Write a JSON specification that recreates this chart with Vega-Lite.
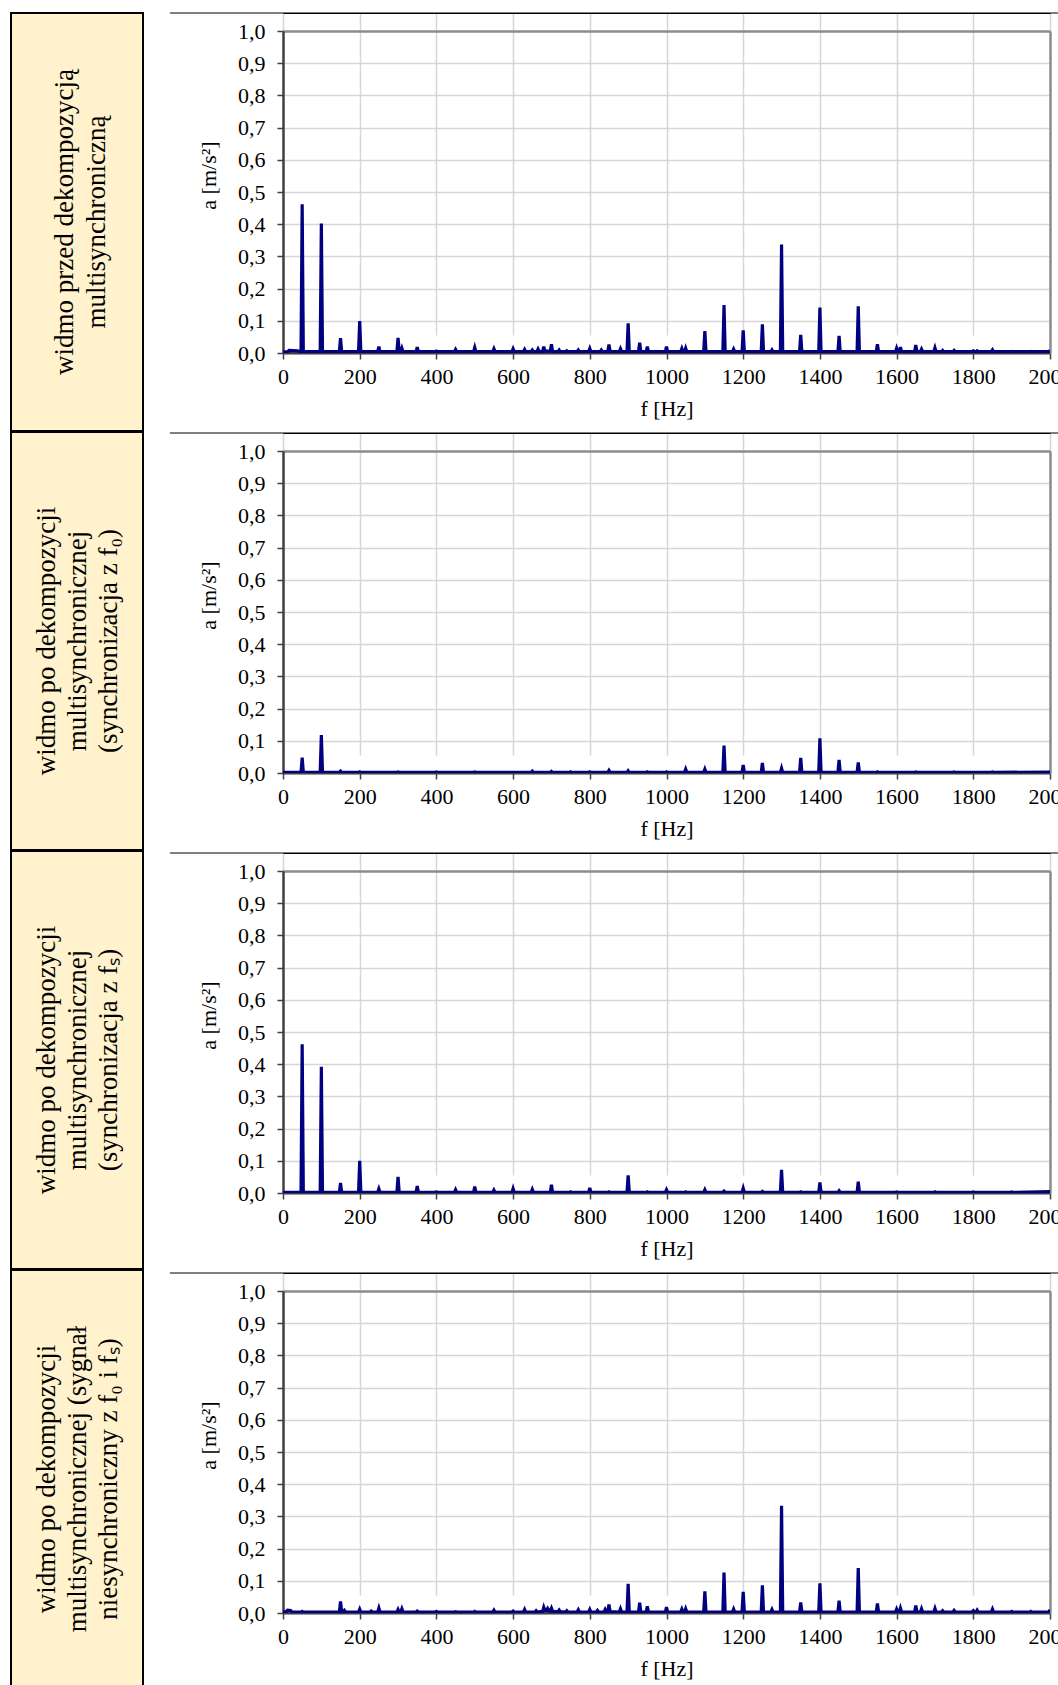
{
  "$schema": "https://vega.github.io/schema/vega-lite/v6.json",
  "padding": {"left": 10, "top": 12, "right": 0, "bottom": 0},
  "background": "white",
  "config": {
    "font": "Liberation Serif",
    "view": {"stroke": null},
    "axisX": {"grid": true, "gridColor": "#d6d6d6", "gridWidth": 1.5, "domainColor": "#404040", "domainWidth": 2, "tickColor": "#404040", "tickSize": 6, "tickWidth": 1.5, "labelFont": "Liberation Serif", "labelFontSize": 22, "labelColor": "black", "labelPadding": 7, "labelFlush": false, "labelOverlap": false, "titleFont": "Liberation Serif", "titleFontSize": 22, "titleFontWeight": "normal", "titleColor": "black", "titlePadding": 11},
    "axisY": {"grid": true, "domainColor": "#404040", "domainWidth": 2.5, "tickColor": "#404040", "tickSize": 6, "tickWidth": 1.5, "labelFont": "Liberation Serif", "labelFontSize": 22, "labelColor": "black", "labelPadding": 12, "labelFlush": false, "labelOverlap": false, "titleFont": "Liberation Serif", "titleFontSize": 22, "titleFontWeight": "normal", "titleColor": "black", "titlePadding": 17, "titleY": 162}
  },
  "datasets": {
    "labels": [
      {"p": 1, "lines": ["widmo przed dekompozycją", "multisynchroniczną"]},
      {"p": 2, "lines": ["widmo po dekompozycji", "multisynchronicznej", "(synchronizacja z f₀)"]},
      {"p": 3, "lines": ["widmo po dekompozycji", "multisynchronicznej", "(synchronizacja z fₛ)"]},
      {"p": 4, "lines": ["widmo po dekompozycji", "multisynchronicznej (sygnał", "niesynchroniczny z f₀ i fₛ)"]}
    ],
    "base": [
      {"p": 1, "f": 0, "f2": 2000, "a": 0},
      {"p": 2, "f": 0, "f2": 2000, "a": 0},
      {"p": 3, "f": 0, "f2": 2000, "a": 0},
      {"p": 4, "f": 0, "f2": 2000, "a": 0}
    ],
    "spec": [
      {"p":1,"f":0,"a":0.003},{"p":1,"f":12,"a":0.004},{"p":1,"f":16,"a":0.008},{"p":1,"f":38,"a":0.007},{"p":1,"f":44,"a":0.004},
      {"p":1,"f":47,"a":0.004},{"p":1,"f":50,"a":0.462},{"p":1,"f":53,"a":0.004},
      {"p":1,"f":97,"a":0.004},{"p":1,"f":100,"a":0.402},{"p":1,"f":103,"a":0.004},
      {"p":1,"f":147,"a":0.004},{"p":1,"f":150,"a":0.046},{"p":1,"f":153,"a":0.004},
      {"p":1,"f":197,"a":0.004},{"p":1,"f":200,"a":0.099},{"p":1,"f":203,"a":0.004},
      {"p":1,"f":247,"a":0.004},{"p":1,"f":250,"a":0.02},{"p":1,"f":253,"a":0.004},
      {"p":1,"f":297,"a":0.004},{"p":1,"f":300,"a":0.047},{"p":1,"f":303,"a":0.004},
      {"p":1,"f":307,"a":0.004},{"p":1,"f":310,"a":0.015},{"p":1,"f":313,"a":0.004},
      {"p":1,"f":347,"a":0.004},{"p":1,"f":350,"a":0.018},{"p":1,"f":353,"a":0.004},
      {"p":1,"f":397,"a":0.004},{"p":1,"f":400,"a":0.006},{"p":1,"f":403,"a":0.004},
      {"p":1,"f":447,"a":0.004},{"p":1,"f":450,"a":0.011},{"p":1,"f":453,"a":0.004},
      {"p":1,"f":497,"a":0.004},{"p":1,"f":500,"a":0.017},{"p":1,"f":503,"a":0.004},
      {"p":1,"f":547,"a":0.004},{"p":1,"f":550,"a":0.013},{"p":1,"f":553,"a":0.004},
      {"p":1,"f":597,"a":0.004},{"p":1,"f":600,"a":0.013},{"p":1,"f":603,"a":0.004},
      {"p":1,"f":627,"a":0.004},{"p":1,"f":630,"a":0.011},{"p":1,"f":633,"a":0.004},
      {"p":1,"f":647,"a":0.004},{"p":1,"f":650,"a":0.009},{"p":1,"f":653,"a":0.004},
      {"p":1,"f":662,"a":0.004},{"p":1,"f":665,"a":0.012},{"p":1,"f":668,"a":0.004},
      {"p":1,"f":677,"a":0.005},{"p":1,"f":680,"a":0.02},{"p":1,"f":683,"a":0.006},
      {"p":1,"f":697,"a":0.006},{"p":1,"f":700,"a":0.027},{"p":1,"f":703,"a":0.005},
      {"p":1,"f":717,"a":0.004},{"p":1,"f":720,"a":0.009},{"p":1,"f":723,"a":0.004},
      {"p":1,"f":737,"a":0.004},{"p":1,"f":740,"a":0.007},{"p":1,"f":743,"a":0.004},
      {"p":1,"f":767,"a":0.004},{"p":1,"f":770,"a":0.009},{"p":1,"f":773,"a":0.004},
      {"p":1,"f":797,"a":0.004},{"p":1,"f":800,"a":0.014},{"p":1,"f":803,"a":0.004},
      {"p":1,"f":827,"a":0.004},{"p":1,"f":830,"a":0.009},{"p":1,"f":833,"a":0.004},
      {"p":1,"f":847,"a":0.005},{"p":1,"f":850,"a":0.026},{"p":1,"f":853,"a":0.005},
      {"p":1,"f":877,"a":0.004},{"p":1,"f":880,"a":0.013},{"p":1,"f":883,"a":0.004},
      {"p":1,"f":897,"a":0.004},{"p":1,"f":900,"a":0.092},{"p":1,"f":903,"a":0.004},
      {"p":1,"f":927,"a":0.004},{"p":1,"f":930,"a":0.032},{"p":1,"f":933,"a":0.004},
      {"p":1,"f":947,"a":0.004},{"p":1,"f":950,"a":0.02},{"p":1,"f":953,"a":0.004},
      {"p":1,"f":997,"a":0.004},{"p":1,"f":1000,"a":0.02},{"p":1,"f":1003,"a":0.004},
      {"p":1,"f":1037,"a":0.004},{"p":1,"f":1040,"a":0.014},{"p":1,"f":1043,"a":0.004},
      {"p":1,"f":1047,"a":0.004},{"p":1,"f":1050,"a":0.015},{"p":1,"f":1053,"a":0.004},
      {"p":1,"f":1097,"a":0.004},{"p":1,"f":1100,"a":0.068},{"p":1,"f":1103,"a":0.004},
      {"p":1,"f":1147,"a":0.004},{"p":1,"f":1150,"a":0.149},{"p":1,"f":1153,"a":0.004},
      {"p":1,"f":1172,"a":0.004},{"p":1,"f":1175,"a":0.012},{"p":1,"f":1178,"a":0.004},
      {"p":1,"f":1197,"a":0.004},{"p":1,"f":1200,"a":0.07},{"p":1,"f":1203,"a":0.004},
      {"p":1,"f":1247,"a":0.004},{"p":1,"f":1250,"a":0.089},{"p":1,"f":1253,"a":0.004},
      {"p":1,"f":1272,"a":0.004},{"p":1,"f":1275,"a":0.01},{"p":1,"f":1278,"a":0.004},
      {"p":1,"f":1297,"a":0.004},{"p":1,"f":1300,"a":0.337},{"p":1,"f":1303,"a":0.004},
      {"p":1,"f":1347,"a":0.004},{"p":1,"f":1350,"a":0.056},{"p":1,"f":1353,"a":0.004},
      {"p":1,"f":1397,"a":0.004},{"p":1,"f":1400,"a":0.141},{"p":1,"f":1403,"a":0.004},
      {"p":1,"f":1447,"a":0.004},{"p":1,"f":1450,"a":0.053},{"p":1,"f":1453,"a":0.004},
      {"p":1,"f":1497,"a":0.004},{"p":1,"f":1500,"a":0.145},{"p":1,"f":1503,"a":0.004},
      {"p":1,"f":1547,"a":0.004},{"p":1,"f":1550,"a":0.027},{"p":1,"f":1553,"a":0.004},
      {"p":1,"f":1597,"a":0.004},{"p":1,"f":1600,"a":0.015},{"p":1,"f":1603,"a":0.004},
      {"p":1,"f":1607,"a":0.004},{"p":1,"f":1610,"a":0.018},{"p":1,"f":1613,"a":0.004},
      {"p":1,"f":1647,"a":0.004},{"p":1,"f":1650,"a":0.025},{"p":1,"f":1653,"a":0.004},
      {"p":1,"f":1662,"a":0.004},{"p":1,"f":1665,"a":0.012},{"p":1,"f":1668,"a":0.004},
      {"p":1,"f":1697,"a":0.004},{"p":1,"f":1700,"a":0.016},{"p":1,"f":1703,"a":0.004},
      {"p":1,"f":1717,"a":0.004},{"p":1,"f":1720,"a":0.008},{"p":1,"f":1723,"a":0.004},
      {"p":1,"f":1747,"a":0.004},{"p":1,"f":1750,"a":0.008},{"p":1,"f":1753,"a":0.004},
      {"p":1,"f":1797,"a":0.004},{"p":1,"f":1800,"a":0.007},{"p":1,"f":1803,"a":0.004},
      {"p":1,"f":1807,"a":0.004},{"p":1,"f":1810,"a":0.007},{"p":1,"f":1813,"a":0.004},
      {"p":1,"f":1847,"a":0.004},{"p":1,"f":1850,"a":0.01},{"p":1,"f":1853,"a":0.004},
      {"p":1,"f":1897,"a":0.004},{"p":1,"f":1900,"a":0.005},{"p":1,"f":1903,"a":0.004},
      {"p":1,"f":1947,"a":0.004},{"p":1,"f":1950,"a":0.005},{"p":1,"f":1953,"a":0.004},
      {"p":1,"f":1997,"a":0.004},{"p":1,"f":2000,"a":0.008},

      {"p":2,"f":0,"a":0.002},
      {"p":2,"f":47,"a":0.002},{"p":2,"f":50,"a":0.048},{"p":2,"f":53,"a":0.002},
      {"p":2,"f":97,"a":0.002},{"p":2,"f":100,"a":0.118},{"p":2,"f":103,"a":0.002},
      {"p":2,"f":147,"a":0.002},{"p":2,"f":150,"a":0.006},{"p":2,"f":153,"a":0.002},
      {"p":2,"f":197,"a":0.002},{"p":2,"f":200,"a":0.004},{"p":2,"f":203,"a":0.002},
      {"p":2,"f":297,"a":0.002},{"p":2,"f":300,"a":0.003},{"p":2,"f":303,"a":0.002},
      {"p":2,"f":397,"a":0.002},{"p":2,"f":400,"a":0.003},{"p":2,"f":403,"a":0.002},
      {"p":2,"f":497,"a":0.002},{"p":2,"f":500,"a":0.003},{"p":2,"f":503,"a":0.002},
      {"p":2,"f":647,"a":0.002},{"p":2,"f":650,"a":0.006},{"p":2,"f":653,"a":0.002},
      {"p":2,"f":697,"a":0.002},{"p":2,"f":700,"a":0.005},{"p":2,"f":703,"a":0.002},
      {"p":2,"f":747,"a":0.002},{"p":2,"f":750,"a":0.004},{"p":2,"f":753,"a":0.002},
      {"p":2,"f":797,"a":0.002},{"p":2,"f":800,"a":0.004},{"p":2,"f":803,"a":0.002},
      {"p":2,"f":847,"a":0.002},{"p":2,"f":850,"a":0.008},{"p":2,"f":853,"a":0.002},
      {"p":2,"f":897,"a":0.002},{"p":2,"f":900,"a":0.007},{"p":2,"f":903,"a":0.002},
      {"p":2,"f":947,"a":0.002},{"p":2,"f":950,"a":0.004},{"p":2,"f":953,"a":0.002},
      {"p":2,"f":997,"a":0.002},{"p":2,"f":1000,"a":0.004},{"p":2,"f":1003,"a":0.002},
      {"p":2,"f":1047,"a":0.002},{"p":2,"f":1050,"a":0.012},{"p":2,"f":1053,"a":0.002},
      {"p":2,"f":1097,"a":0.002},{"p":2,"f":1100,"a":0.012},{"p":2,"f":1103,"a":0.002},
      {"p":2,"f":1147,"a":0.002},{"p":2,"f":1150,"a":0.085},{"p":2,"f":1153,"a":0.002},
      {"p":2,"f":1197,"a":0.002},{"p":2,"f":1200,"a":0.025},{"p":2,"f":1203,"a":0.002},
      {"p":2,"f":1247,"a":0.002},{"p":2,"f":1250,"a":0.031},{"p":2,"f":1253,"a":0.002},
      {"p":2,"f":1297,"a":0.002},{"p":2,"f":1300,"a":0.015},{"p":2,"f":1303,"a":0.002},
      {"p":2,"f":1347,"a":0.002},{"p":2,"f":1350,"a":0.047},{"p":2,"f":1353,"a":0.002},
      {"p":2,"f":1397,"a":0.002},{"p":2,"f":1400,"a":0.108},{"p":2,"f":1403,"a":0.002},
      {"p":2,"f":1447,"a":0.002},{"p":2,"f":1450,"a":0.041},{"p":2,"f":1453,"a":0.002},
      {"p":2,"f":1497,"a":0.002},{"p":2,"f":1500,"a":0.033},{"p":2,"f":1503,"a":0.002},
      {"p":2,"f":1547,"a":0.002},{"p":2,"f":1550,"a":0.004},{"p":2,"f":1553,"a":0.002},
      {"p":2,"f":1647,"a":0.002},{"p":2,"f":1650,"a":0.003},{"p":2,"f":1653,"a":0.002},
      {"p":2,"f":1747,"a":0.002},{"p":2,"f":1750,"a":0.003},{"p":2,"f":1753,"a":0.002},
      {"p":2,"f":1847,"a":0.002},{"p":2,"f":1850,"a":0.003},{"p":2,"f":1853,"a":0.002},
      {"p":2,"f":2000,"a":0.003},

      {"p":3,"f":0,"a":0.002},
      {"p":3,"f":47,"a":0.002},{"p":3,"f":50,"a":0.462},{"p":3,"f":53,"a":0.002},
      {"p":3,"f":97,"a":0.002},{"p":3,"f":100,"a":0.392},{"p":3,"f":103,"a":0.002},
      {"p":3,"f":147,"a":0.002},{"p":3,"f":150,"a":0.031},{"p":3,"f":153,"a":0.002},
      {"p":3,"f":197,"a":0.002},{"p":3,"f":200,"a":0.1},{"p":3,"f":203,"a":0.002},
      {"p":3,"f":247,"a":0.002},{"p":3,"f":250,"a":0.013},{"p":3,"f":253,"a":0.002},
      {"p":3,"f":297,"a":0.002},{"p":3,"f":300,"a":0.05},{"p":3,"f":303,"a":0.002},
      {"p":3,"f":347,"a":0.002},{"p":3,"f":350,"a":0.022},{"p":3,"f":353,"a":0.002},
      {"p":3,"f":397,"a":0.002},{"p":3,"f":400,"a":0.004},{"p":3,"f":403,"a":0.002},
      {"p":3,"f":447,"a":0.002},{"p":3,"f":450,"a":0.01},{"p":3,"f":453,"a":0.002},
      {"p":3,"f":497,"a":0.002},{"p":3,"f":500,"a":0.02},{"p":3,"f":503,"a":0.002},
      {"p":3,"f":547,"a":0.002},{"p":3,"f":550,"a":0.009},{"p":3,"f":553,"a":0.002},
      {"p":3,"f":597,"a":0.002},{"p":3,"f":600,"a":0.014},{"p":3,"f":603,"a":0.002},
      {"p":3,"f":647,"a":0.002},{"p":3,"f":650,"a":0.011},{"p":3,"f":653,"a":0.002},
      {"p":3,"f":697,"a":0.002},{"p":3,"f":700,"a":0.026},{"p":3,"f":703,"a":0.002},
      {"p":3,"f":747,"a":0.002},{"p":3,"f":750,"a":0.004},{"p":3,"f":753,"a":0.002},
      {"p":3,"f":797,"a":0.002},{"p":3,"f":800,"a":0.016},{"p":3,"f":803,"a":0.002},
      {"p":3,"f":847,"a":0.002},{"p":3,"f":850,"a":0.004},{"p":3,"f":853,"a":0.002},
      {"p":3,"f":897,"a":0.002},{"p":3,"f":900,"a":0.055},{"p":3,"f":903,"a":0.002},
      {"p":3,"f":947,"a":0.002},{"p":3,"f":950,"a":0.004},{"p":3,"f":953,"a":0.002},
      {"p":3,"f":997,"a":0.002},{"p":3,"f":1000,"a":0.01},{"p":3,"f":1003,"a":0.002},
      {"p":3,"f":1047,"a":0.002},{"p":3,"f":1050,"a":0.004},{"p":3,"f":1053,"a":0.002},
      {"p":3,"f":1097,"a":0.002},{"p":3,"f":1100,"a":0.01},{"p":3,"f":1103,"a":0.002},
      {"p":3,"f":1147,"a":0.002},{"p":3,"f":1150,"a":0.006},{"p":3,"f":1153,"a":0.002},
      {"p":3,"f":1197,"a":0.002},{"p":3,"f":1200,"a":0.015},{"p":3,"f":1203,"a":0.002},
      {"p":3,"f":1247,"a":0.002},{"p":3,"f":1250,"a":0.005},{"p":3,"f":1253,"a":0.002},
      {"p":3,"f":1297,"a":0.002},{"p":3,"f":1300,"a":0.072},{"p":3,"f":1303,"a":0.002},
      {"p":3,"f":1347,"a":0.002},{"p":3,"f":1350,"a":0.004},{"p":3,"f":1353,"a":0.002},
      {"p":3,"f":1397,"a":0.002},{"p":3,"f":1400,"a":0.033},{"p":3,"f":1403,"a":0.002},
      {"p":3,"f":1447,"a":0.002},{"p":3,"f":1450,"a":0.007},{"p":3,"f":1453,"a":0.002},
      {"p":3,"f":1497,"a":0.002},{"p":3,"f":1500,"a":0.035},{"p":3,"f":1503,"a":0.002},
      {"p":3,"f":1597,"a":0.002},{"p":3,"f":1600,"a":0.003},{"p":3,"f":1603,"a":0.002},
      {"p":3,"f":1697,"a":0.002},{"p":3,"f":1700,"a":0.004},{"p":3,"f":1703,"a":0.002},
      {"p":3,"f":1797,"a":0.002},{"p":3,"f":1800,"a":0.003},{"p":3,"f":1803,"a":0.002},
      {"p":3,"f":1897,"a":0.002},{"p":3,"f":1900,"a":0.003},{"p":3,"f":1903,"a":0.002},
      {"p":3,"f":2000,"a":0.004},

      {"p":4,"f":0,"a":0.003},{"p":4,"f":8,"a":0.004},{"p":4,"f":12,"a":0.009},{"p":4,"f":20,"a":0.008},{"p":4,"f":24,"a":0.003},
      {"p":4,"f":47,"a":0.003},{"p":4,"f":50,"a":0.005},{"p":4,"f":53,"a":0.003},
      {"p":4,"f":97,"a":0.003},{"p":4,"f":100,"a":0.003},{"p":4,"f":103,"a":0.003},
      {"p":4,"f":147,"a":0.003},{"p":4,"f":150,"a":0.036},{"p":4,"f":153,"a":0.003},
      {"p":4,"f":157,"a":0.003},{"p":4,"f":160,"a":0.008},{"p":4,"f":163,"a":0.003},
      {"p":4,"f":197,"a":0.003},{"p":4,"f":200,"a":0.012},{"p":4,"f":203,"a":0.003},
      {"p":4,"f":227,"a":0.003},{"p":4,"f":230,"a":0.006},{"p":4,"f":233,"a":0.003},
      {"p":4,"f":247,"a":0.003},{"p":4,"f":250,"a":0.015},{"p":4,"f":253,"a":0.003},
      {"p":4,"f":297,"a":0.003},{"p":4,"f":300,"a":0.011},{"p":4,"f":303,"a":0.003},
      {"p":4,"f":307,"a":0.003},{"p":4,"f":310,"a":0.013},{"p":4,"f":313,"a":0.003},
      {"p":4,"f":347,"a":0.003},{"p":4,"f":350,"a":0.006},{"p":4,"f":353,"a":0.003},
      {"p":4,"f":397,"a":0.003},{"p":4,"f":400,"a":0.005},{"p":4,"f":403,"a":0.003},
      {"p":4,"f":447,"a":0.003},{"p":4,"f":450,"a":0.004},{"p":4,"f":453,"a":0.003},
      {"p":4,"f":497,"a":0.003},{"p":4,"f":500,"a":0.005},{"p":4,"f":503,"a":0.003},
      {"p":4,"f":547,"a":0.003},{"p":4,"f":550,"a":0.009},{"p":4,"f":553,"a":0.003},
      {"p":4,"f":597,"a":0.003},{"p":4,"f":600,"a":0.006},{"p":4,"f":603,"a":0.003},
      {"p":4,"f":627,"a":0.003},{"p":4,"f":630,"a":0.011},{"p":4,"f":633,"a":0.003},
      {"p":4,"f":657,"a":0.003},{"p":4,"f":660,"a":0.007},{"p":4,"f":663,"a":0.003},
      {"p":4,"f":677,"a":0.005},{"p":4,"f":680,"a":0.018},{"p":4,"f":683,"a":0.008},
      {"p":4,"f":687,"a":0.008},{"p":4,"f":690,"a":0.014},{"p":4,"f":693,"a":0.007},
      {"p":4,"f":697,"a":0.006},{"p":4,"f":700,"a":0.015},{"p":4,"f":703,"a":0.005},
      {"p":4,"f":717,"a":0.004},{"p":4,"f":720,"a":0.009},{"p":4,"f":723,"a":0.004},
      {"p":4,"f":737,"a":0.003},{"p":4,"f":740,"a":0.007},{"p":4,"f":743,"a":0.003},
      {"p":4,"f":767,"a":0.003},{"p":4,"f":770,"a":0.01},{"p":4,"f":773,"a":0.003},
      {"p":4,"f":797,"a":0.003},{"p":4,"f":800,"a":0.011},{"p":4,"f":803,"a":0.003},
      {"p":4,"f":817,"a":0.003},{"p":4,"f":820,"a":0.008},{"p":4,"f":823,"a":0.003},
      {"p":4,"f":837,"a":0.003},{"p":4,"f":840,"a":0.011},{"p":4,"f":843,"a":0.004},
      {"p":4,"f":847,"a":0.004},{"p":4,"f":850,"a":0.026},{"p":4,"f":853,"a":0.004},
      {"p":4,"f":877,"a":0.003},{"p":4,"f":880,"a":0.013},{"p":4,"f":883,"a":0.003},
      {"p":4,"f":897,"a":0.003},{"p":4,"f":900,"a":0.091},{"p":4,"f":903,"a":0.003},
      {"p":4,"f":927,"a":0.003},{"p":4,"f":930,"a":0.032},{"p":4,"f":933,"a":0.003},
      {"p":4,"f":947,"a":0.003},{"p":4,"f":950,"a":0.021},{"p":4,"f":953,"a":0.003},
      {"p":4,"f":997,"a":0.003},{"p":4,"f":1000,"a":0.018},{"p":4,"f":1003,"a":0.003},
      {"p":4,"f":1037,"a":0.003},{"p":4,"f":1040,"a":0.012},{"p":4,"f":1043,"a":0.003},
      {"p":4,"f":1047,"a":0.003},{"p":4,"f":1050,"a":0.013},{"p":4,"f":1053,"a":0.003},
      {"p":4,"f":1097,"a":0.003},{"p":4,"f":1100,"a":0.067},{"p":4,"f":1103,"a":0.003},
      {"p":4,"f":1147,"a":0.003},{"p":4,"f":1150,"a":0.126},{"p":4,"f":1153,"a":0.003},
      {"p":4,"f":1172,"a":0.003},{"p":4,"f":1175,"a":0.012},{"p":4,"f":1178,"a":0.003},
      {"p":4,"f":1197,"a":0.003},{"p":4,"f":1200,"a":0.066},{"p":4,"f":1203,"a":0.003},
      {"p":4,"f":1247,"a":0.003},{"p":4,"f":1250,"a":0.086},{"p":4,"f":1253,"a":0.003},
      {"p":4,"f":1272,"a":0.003},{"p":4,"f":1275,"a":0.011},{"p":4,"f":1278,"a":0.003},
      {"p":4,"f":1297,"a":0.003},{"p":4,"f":1300,"a":0.333},{"p":4,"f":1303,"a":0.003},
      {"p":4,"f":1347,"a":0.003},{"p":4,"f":1350,"a":0.033},{"p":4,"f":1353,"a":0.003},
      {"p":4,"f":1397,"a":0.003},{"p":4,"f":1400,"a":0.092},{"p":4,"f":1403,"a":0.003},
      {"p":4,"f":1447,"a":0.003},{"p":4,"f":1450,"a":0.038},{"p":4,"f":1453,"a":0.003},
      {"p":4,"f":1497,"a":0.003},{"p":4,"f":1500,"a":0.14},{"p":4,"f":1503,"a":0.003},
      {"p":4,"f":1547,"a":0.003},{"p":4,"f":1550,"a":0.03},{"p":4,"f":1553,"a":0.003},
      {"p":4,"f":1597,"a":0.003},{"p":4,"f":1600,"a":0.012},{"p":4,"f":1603,"a":0.003},
      {"p":4,"f":1607,"a":0.003},{"p":4,"f":1610,"a":0.015},{"p":4,"f":1613,"a":0.003},
      {"p":4,"f":1647,"a":0.003},{"p":4,"f":1650,"a":0.023},{"p":4,"f":1653,"a":0.003},
      {"p":4,"f":1662,"a":0.003},{"p":4,"f":1665,"a":0.013},{"p":4,"f":1668,"a":0.003},
      {"p":4,"f":1697,"a":0.003},{"p":4,"f":1700,"a":0.014},{"p":4,"f":1703,"a":0.003},
      {"p":4,"f":1717,"a":0.003},{"p":4,"f":1720,"a":0.007},{"p":4,"f":1723,"a":0.003},
      {"p":4,"f":1747,"a":0.003},{"p":4,"f":1750,"a":0.008},{"p":4,"f":1753,"a":0.003},
      {"p":4,"f":1797,"a":0.003},{"p":4,"f":1800,"a":0.007},{"p":4,"f":1803,"a":0.003},
      {"p":4,"f":1807,"a":0.003},{"p":4,"f":1810,"a":0.009},{"p":4,"f":1813,"a":0.003},
      {"p":4,"f":1847,"a":0.003},{"p":4,"f":1850,"a":0.012},{"p":4,"f":1853,"a":0.003},
      {"p":4,"f":1897,"a":0.003},{"p":4,"f":1900,"a":0.005},{"p":4,"f":1903,"a":0.003},
      {"p":4,"f":1947,"a":0.003},{"p":4,"f":1950,"a":0.005},{"p":4,"f":1953,"a":0.003},
      {"p":4,"f":1997,"a":0.003},{"p":4,"f":2000,"a":0.01}
    ]
  },
  "spacing": 25,
  "hconcat": [
    {
      "spacing": -2,
      "vconcat": [
        {
          "width": 132, "height": 418,
          "view": {"fill": "#FFF2CC", "stroke": "black", "strokeWidth": 2},
          "data": {"name": "labels"},
          "transform": [{"filter": "datum.p == 1"}],
          "mark": {"type": "text", "angle": 270, "fontSize": 27, "lineHeight": 32, "dy": -12, "font": "Liberation Serif", "align": "center", "baseline": "middle", "color": "black"},
          "encoding": {
            "x": {"datum": 0.5, "type": "quantitative", "scale": {"domain": [0, 1]}, "axis": null},
            "y": {"datum": 0.5, "type": "quantitative", "scale": {"domain": [0, 1]}, "axis": null},
            "text": {"field": "lines"}
          }
        },
        {
          "width": 132, "height": 418,
          "view": {"fill": "#FFF2CC", "stroke": "black", "strokeWidth": 2},
          "data": {"name": "labels"},
          "transform": [{"filter": "datum.p == 2"}],
          "mark": {"type": "text", "angle": 270, "fontSize": 27, "lineHeight": 31, "dy": -30, "font": "Liberation Serif", "align": "center", "baseline": "middle", "color": "black"},
          "encoding": {
            "x": {"datum": 0.5, "type": "quantitative", "scale": {"domain": [0, 1]}, "axis": null},
            "y": {"datum": 0.5, "type": "quantitative", "scale": {"domain": [0, 1]}, "axis": null},
            "text": {"field": "lines"}
          }
        },
        {
          "width": 132, "height": 418,
          "view": {"fill": "#FFF2CC", "stroke": "black", "strokeWidth": 2},
          "data": {"name": "labels"},
          "transform": [{"filter": "datum.p == 3"}],
          "mark": {"type": "text", "angle": 270, "fontSize": 27, "lineHeight": 31, "dy": -30, "font": "Liberation Serif", "align": "center", "baseline": "middle", "color": "black"},
          "encoding": {
            "x": {"datum": 0.5, "type": "quantitative", "scale": {"domain": [0, 1]}, "axis": null},
            "y": {"datum": 0.5, "type": "quantitative", "scale": {"domain": [0, 1]}, "axis": null},
            "text": {"field": "lines"}
          }
        },
        {
          "width": 132, "height": 418,
          "view": {"fill": "#FFF2CC", "stroke": "black", "strokeWidth": 2},
          "data": {"name": "labels"},
          "transform": [{"filter": "datum.p == 4"}],
          "mark": {"type": "text", "angle": 270, "fontSize": 27, "lineHeight": 31, "dy": -30, "font": "Liberation Serif", "align": "center", "baseline": "middle", "color": "black"},
          "encoding": {
            "x": {"datum": 0.5, "type": "quantitative", "scale": {"domain": [0, 1]}, "axis": null},
            "y": {"datum": 0.5, "type": "quantitative", "scale": {"domain": [0, 1]}, "axis": null},
            "text": {"field": "lines"}
          }
        }
      ]
    },
    {
      "spacing": 13,
      "vconcat": [
        {
          "width": 767, "height": 340,
          "resolve": {"axis": {"x": "independent", "y": "independent"}},
          "layer": [
            {
              "data": {"name": "base"},
              "transform": [{"filter": "datum.p == 1"}],
              "mark": {"type": "rule", "color": "#404040", "strokeWidth": 2},
              "encoding": {
                "x": {"field": "f", "type": "quantitative", "scale": {"domain": [0, 2000], "nice": false}, "axis": {"values": [0, 200, 400, 600, 800, 1000, 1200, 1400, 1600, 1800, 2000], "format": "d", "title": "f [Hz]"}},
                "x2": {"field": "f2"},
                "y": {"field": "a", "type": "quantitative", "scale": {"domain": [0, 1], "nice": false, "range": [340, 18]}, "axis": {"values": [0, 0.1, 0.2, 0.3, 0.4, 0.5, 0.6, 0.7, 0.8, 0.9, 1.0], "labelExpr": "replace(format(datum.value, '.1f'), '.', ',')", "title": "a [m/s²]", "gridColor": {"condition": {"test": "datum.value >= 0.999", "value": "#8c8c8c"}, "value": "#d6d6d6"}, "gridWidth": {"condition": {"test": "datum.value >= 0.999", "value": 2.5}, "value": 1.5}}}
              }
            },
            {
              "data": {"name": "spec"},
              "transform": [{"filter": "datum.p == 1"}],
              "mark": {"type": "line", "color": "#000080", "strokeWidth": 3.2, "clip": true},
              "encoding": {
                "x": {"field": "f", "type": "quantitative", "scale": {"domain": [0, 2000], "nice": false}, "axis": {"orient": "top", "domainColor": "black", "domainWidth": 1.2, "ticks": false, "labels": false, "grid": false, "title": null}},
                "y": {"field": "a", "type": "quantitative", "scale": {"domain": [0, 1], "nice": false, "range": [340, 18]}, "axis": {"orient": "right", "domainColor": "#8c8c8c", "domainWidth": 2.5, "ticks": false, "labels": false, "grid": false, "title": null}}
              }
            },
            {
              "data": {"values": [{}]},
              "mark": {"type": "rule", "color": "black", "strokeWidth": 1.2, "clip": false},
              "encoding": {
                "x": {"datum": -295, "type": "quantitative", "scale": {"domain": [0, 2000], "nice": false}, "axis": null},
                "x2": {"datum": 2100},
                "y": {"datum": 1.0559, "type": "quantitative", "scale": {"domain": [0, 1], "nice": false, "range": [340, 18]}, "axis": null}
              }
            }
          ]
        },
        {
          "width": 767, "height": 340,
          "resolve": {"axis": {"x": "independent", "y": "independent"}},
          "layer": [
            {
              "data": {"name": "base"},
              "transform": [{"filter": "datum.p == 2"}],
              "mark": {"type": "rule", "color": "#404040", "strokeWidth": 2},
              "encoding": {
                "x": {"field": "f", "type": "quantitative", "scale": {"domain": [0, 2000], "nice": false}, "axis": {"values": [0, 200, 400, 600, 800, 1000, 1200, 1400, 1600, 1800, 2000], "format": "d", "title": "f [Hz]"}},
                "x2": {"field": "f2"},
                "y": {"field": "a", "type": "quantitative", "scale": {"domain": [0, 1], "nice": false, "range": [340, 18]}, "axis": {"values": [0, 0.1, 0.2, 0.3, 0.4, 0.5, 0.6, 0.7, 0.8, 0.9, 1.0], "labelExpr": "replace(format(datum.value, '.1f'), '.', ',')", "title": "a [m/s²]", "gridColor": {"condition": {"test": "datum.value >= 0.999", "value": "#8c8c8c"}, "value": "#d6d6d6"}, "gridWidth": {"condition": {"test": "datum.value >= 0.999", "value": 2.5}, "value": 1.5}}}
              }
            },
            {
              "data": {"name": "spec"},
              "transform": [{"filter": "datum.p == 2"}],
              "mark": {"type": "line", "color": "#000080", "strokeWidth": 3.2, "clip": true},
              "encoding": {
                "x": {"field": "f", "type": "quantitative", "scale": {"domain": [0, 2000], "nice": false}, "axis": {"orient": "top", "domainColor": "black", "domainWidth": 1.2, "ticks": false, "labels": false, "grid": false, "title": null}},
                "y": {"field": "a", "type": "quantitative", "scale": {"domain": [0, 1], "nice": false, "range": [340, 18]}, "axis": {"orient": "right", "domainColor": "#8c8c8c", "domainWidth": 2.5, "ticks": false, "labels": false, "grid": false, "title": null}}
              }
            },
            {
              "data": {"values": [{}]},
              "mark": {"type": "rule", "color": "black", "strokeWidth": 1.2, "clip": false},
              "encoding": {
                "x": {"datum": -295, "type": "quantitative", "scale": {"domain": [0, 2000], "nice": false}, "axis": null},
                "x2": {"datum": 2100},
                "y": {"datum": 1.0559, "type": "quantitative", "scale": {"domain": [0, 1], "nice": false, "range": [340, 18]}, "axis": null}
              }
            }
          ]
        },
        {
          "width": 767, "height": 340,
          "resolve": {"axis": {"x": "independent", "y": "independent"}},
          "layer": [
            {
              "data": {"name": "base"},
              "transform": [{"filter": "datum.p == 3"}],
              "mark": {"type": "rule", "color": "#404040", "strokeWidth": 2},
              "encoding": {
                "x": {"field": "f", "type": "quantitative", "scale": {"domain": [0, 2000], "nice": false}, "axis": {"values": [0, 200, 400, 600, 800, 1000, 1200, 1400, 1600, 1800, 2000], "format": "d", "title": "f [Hz]"}},
                "x2": {"field": "f2"},
                "y": {"field": "a", "type": "quantitative", "scale": {"domain": [0, 1], "nice": false, "range": [340, 18]}, "axis": {"values": [0, 0.1, 0.2, 0.3, 0.4, 0.5, 0.6, 0.7, 0.8, 0.9, 1.0], "labelExpr": "replace(format(datum.value, '.1f'), '.', ',')", "title": "a [m/s²]", "gridColor": {"condition": {"test": "datum.value >= 0.999", "value": "#8c8c8c"}, "value": "#d6d6d6"}, "gridWidth": {"condition": {"test": "datum.value >= 0.999", "value": 2.5}, "value": 1.5}}}
              }
            },
            {
              "data": {"name": "spec"},
              "transform": [{"filter": "datum.p == 3"}],
              "mark": {"type": "line", "color": "#000080", "strokeWidth": 3.2, "clip": true},
              "encoding": {
                "x": {"field": "f", "type": "quantitative", "scale": {"domain": [0, 2000], "nice": false}, "axis": {"orient": "top", "domainColor": "black", "domainWidth": 1.2, "ticks": false, "labels": false, "grid": false, "title": null}},
                "y": {"field": "a", "type": "quantitative", "scale": {"domain": [0, 1], "nice": false, "range": [340, 18]}, "axis": {"orient": "right", "domainColor": "#8c8c8c", "domainWidth": 2.5, "ticks": false, "labels": false, "grid": false, "title": null}}
              }
            },
            {
              "data": {"values": [{}]},
              "mark": {"type": "rule", "color": "black", "strokeWidth": 1.2, "clip": false},
              "encoding": {
                "x": {"datum": -295, "type": "quantitative", "scale": {"domain": [0, 2000], "nice": false}, "axis": null},
                "x2": {"datum": 2100},
                "y": {"datum": 1.0559, "type": "quantitative", "scale": {"domain": [0, 1], "nice": false, "range": [340, 18]}, "axis": null}
              }
            }
          ]
        },
        {
          "width": 767, "height": 340,
          "resolve": {"axis": {"x": "independent", "y": "independent"}},
          "layer": [
            {
              "data": {"name": "base"},
              "transform": [{"filter": "datum.p == 4"}],
              "mark": {"type": "rule", "color": "#404040", "strokeWidth": 2},
              "encoding": {
                "x": {"field": "f", "type": "quantitative", "scale": {"domain": [0, 2000], "nice": false}, "axis": {"values": [0, 200, 400, 600, 800, 1000, 1200, 1400, 1600, 1800, 2000], "format": "d", "title": "f [Hz]"}},
                "x2": {"field": "f2"},
                "y": {"field": "a", "type": "quantitative", "scale": {"domain": [0, 1], "nice": false, "range": [340, 18]}, "axis": {"values": [0, 0.1, 0.2, 0.3, 0.4, 0.5, 0.6, 0.7, 0.8, 0.9, 1.0], "labelExpr": "replace(format(datum.value, '.1f'), '.', ',')", "title": "a [m/s²]", "gridColor": {"condition": {"test": "datum.value >= 0.999", "value": "#8c8c8c"}, "value": "#d6d6d6"}, "gridWidth": {"condition": {"test": "datum.value >= 0.999", "value": 2.5}, "value": 1.5}}}
              }
            },
            {
              "data": {"name": "spec"},
              "transform": [{"filter": "datum.p == 4"}],
              "mark": {"type": "line", "color": "#000080", "strokeWidth": 3.2, "clip": true},
              "encoding": {
                "x": {"field": "f", "type": "quantitative", "scale": {"domain": [0, 2000], "nice": false}, "axis": {"orient": "top", "domainColor": "black", "domainWidth": 1.2, "ticks": false, "labels": false, "grid": false, "title": null}},
                "y": {"field": "a", "type": "quantitative", "scale": {"domain": [0, 1], "nice": false, "range": [340, 18]}, "axis": {"orient": "right", "domainColor": "#8c8c8c", "domainWidth": 2.5, "ticks": false, "labels": false, "grid": false, "title": null}}
              }
            },
            {
              "data": {"values": [{}]},
              "mark": {"type": "rule", "color": "black", "strokeWidth": 1.2, "clip": false},
              "encoding": {
                "x": {"datum": -295, "type": "quantitative", "scale": {"domain": [0, 2000], "nice": false}, "axis": null},
                "x2": {"datum": 2100},
                "y": {"datum": 1.0559, "type": "quantitative", "scale": {"domain": [0, 1], "nice": false, "range": [340, 18]}, "axis": null}
              }
            }
          ]
        }
      ]
    }
  ]
}
